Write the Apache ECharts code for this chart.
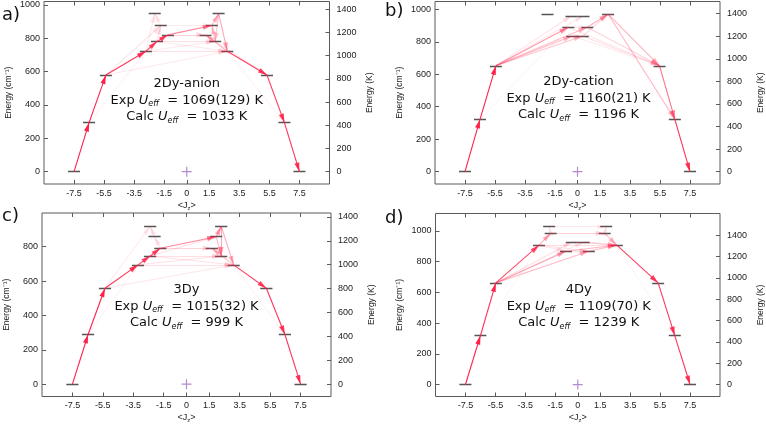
<!DOCTYPE html>
<html><head><meta charset="utf-8">
<script src="https://cdn.jsdelivr.net/npm/echarts@6/dist/echarts.min.js"></script>
<style>html,body{margin:0;padding:0;background:#fff}#c{width:766px;height:428px}</style>
</head><body><div id="c"></div>
<script>
// ---------- shared ticks ----------
const xTicks = [-7.5, -5.5, -3.5, -1.5, 0, 1.5, 3.5, 5.5, 7.5];
const kTicks = [0, 200, 400, 600, 800, 1000, 1200, 1400];
const cmToK = 1.4388;
const originPoint = [[0, 0]];

// ---------- panel a: 2Dy-anion ----------
const aJz = [-7.5, -6.5, -5.38, -2.72, -1.98, -1.25, -1.73, -2.13, 2.12, 1.67, 1.25, 1.89, 2.7, 5.34, 6.5, 7.5];
const aE  = [0, 294, 579, 722, 780, 820, 876, 947, 947, 876, 820, 780, 722, 579, 294, 0];
const aTrans = [[0,1,1],[1,2,1],[2,3,0.9],[3,4,0.8],[4,5,0.8],[5,9,0.55],[9,8,0.3],[8,12,0.4],[8,11,0.25],
  [12,13,0.85],[13,14,0.9],[14,15,0.9],[3,12,0.15],[4,11,0.15],[5,10,0.2],[12,10,0.35],[11,9,0.25],
  [2,6,0.12],[3,7,0.1],[6,7,0.1],[4,6,0.15],[3,11,0.1],[4,12,0.1],[2,12,0.1],[6,9,0.1],[10,13,0.1],[1,3,0.06],[12,14,0.06]];
const aYTicks = [0, 200, 400, 600, 800, 1000];
const aRange = [-74, 1020];

// ---------- panel b: 2Dy-cation ----------
const bJz = [-7.5, -6.5, -5.44, -2.0, -0.4, 0.4, -0.61, 0.65, -0.35, 0.35, 2.04, 5.47, 6.49, 7.5];
const bE  = [0, 322, 652, 970, 960, 960, 889, 889, 835, 835, 970, 652, 322, 0];
const bTrans = [[0,1,1],[1,2,1],[2,6,0.45],[2,7,0.3],[2,8,0.3],[2,9,0.25],[2,4,0.12],[2,5,0.1],[7,10,0.35],
  [9,10,0.2],[10,11,0.35],[10,12,0.3],[7,11,0.2],[6,11,0.12],[9,11,0.15],[8,11,0.1],[11,12,0.6],[12,13,0.9],
  [6,7,0.1],[8,9,0.1],[1,6,0.05],[11,13,0.05]];
const bYTicks = [0, 200, 400, 600, 800, 1000];
const bRange = [-76, 1048];

// ---------- panel c: 3Dy ----------
const cJz = [-7.5, -6.47, -5.36, -3.19, -2.39, -1.72, -2.1, -2.39, 2.28, 1.95, 1.66, 2.28, 3.1, 5.25, 6.47, 7.5];
const cE  = [0, 289, 558, 694, 746, 791, 858, 919, 919, 858, 791, 746, 694, 558, 289, 0];
const cTrans = [[0,1,1],[1,2,1],[2,3,0.9],[3,4,0.8],[4,5,0.8],[5,9,0.55],[9,8,0.4],[8,11,0.4],[8,12,0.35],
  [12,13,0.85],[13,14,0.9],[14,15,0.9],[2,12,0.1],[3,12,0.15],[4,11,0.15],[5,10,0.2],[6,7,0.12],[2,7,0.1],
  [12,10,0.3],[9,11,0.3],[3,11,0.12],[4,12,0.12],[5,6,0.12],[4,9,0.15],[1,3,0.06],[12,14,0.06]];
const cYTicks = [0, 200, 400, 600, 800];
const cRange = [-72, 996];

// ---------- panel d: 4Dy ----------
const dJz = [-7.5, -6.5, -5.47, -2.59, -1.81, -1.91, -0.4, 0.4, -0.79, 0.74, 1.8, 1.9, 2.61, 5.37, 6.48, 7.5];
const dE  = [0, 319, 662, 908, 985, 1028, 929, 929, 868, 868, 985, 1028, 908, 662, 319, 0];
const dTrans = [[0,1,1],[1,2,0.95],[2,3,0.8],[3,4,0.35],[2,8,0.4],[2,9,0.3],[8,12,0.3],[9,12,0.3],[4,10,0.2],
  [10,12,0.3],[6,12,0.15],[7,12,0.15],[12,13,0.85],[13,14,0.9],[14,15,0.9],[3,12,0.15],[2,6,0.15],[2,7,0.1],
  [8,9,0.15],[3,8,0.12],[5,11,0.1],[4,5,0.1],[10,11,0.12],[3,9,0.1],[1,3,0.05],[12,14,0.05]];
const dYTicks = [0, 200, 400, 600, 800, 1000];
const dRange = [-78, 1114];

// ---------- titles ----------
const titles = ['2Dy-anion', '2Dy-cation', '3Dy', '4Dy'];
const expValues = ['1069(129)', '1160(21)', '1015(32)', '1109(70)'];
const calcValues = ['1033', '1196', '999', '1239'];
const panelLetters = ['a)', 'b)', 'c)', 'd)'];

// ---------- layout (pixels) ----------
const panels = [
  {jz: aJz, e: aE, tr: aTrans, yt: aYTicks, range: aRange, grid: {left: 44, top: 1.5, width: 285.5, height: 182.5}, textY: 84, lab: [2, 15]},
  {jz: bJz, e: bE, tr: bTrans, yt: bYTicks, range: bRange, grid: {left: 435, top: 1.5, width: 287, height: 182.5}, textY: 82, lab: [385, 11]},
  {jz: cJz, e: cE, tr: cTrans, yt: cYTicks, range: cRange, grid: {left: 42, top: 213, width: 289, height: 183.5}, textY: 290, lab: [2, 216]},
  {jz: dJz, e: dE, tr: dTrans, yt: dYTicks, range: dRange, grid: {left: 435.5, top: 213.5, width: 286.5, height: 183}, textY: 290, lab: [385, 218]}
];

const FRAME = '#5a5a5a';
const TXT = '#222';
const TICKFONT = 'Liberation Sans';
const BIGFONT = 'DejaVu Sans';
const plain = v => String(v);
// arrowhead whose tip sits at the symbol centre (empty upper half)
const HEAD = 'path://M5,-16L5.01,-16L5,-15.99Z M5,0L10,16L0,16Z';

const grids = [], xAxes = [], yAxes = [], series = [], graphics = [];
panels.forEach((p, i) => {
  grids.push(Object.assign({show: true, borderColor: FRAME, borderWidth: 1, backgroundColor: 'transparent'}, p.grid));
  const tickStyle = {lineStyle: {color: FRAME, width: 1}};
  const noLine = {show: false, onZero: false};
  xAxes.push({
    gridIndex: i, type: 'value', min: -9.5, max: 9.5, position: 'bottom',
    axisLine: noLine, splitLine: {show: false},
    axisTick: Object.assign({inside: true, length: 4, customValues: xTicks}, tickStyle),
    axisLabel: {customValues: xTicks, formatter: plain, margin: 5, fontSize: 9, color: TXT, fontFamily: TICKFONT},
    name: '<J{s|z}>', nameLocation: 'middle', nameGap: 16,
    nameTextStyle: {fontSize: 9, color: TXT, fontFamily: TICKFONT, rich: {s: {fontSize: 6, fontFamily: TICKFONT, color: TXT, verticalAlign: 'bottom', padding: [5, 0, 0, 0]}}}
  });
  xAxes.push({
    gridIndex: i, type: 'value', min: -9.5, max: 9.5, position: 'top',
    axisLine: noLine, splitLine: {show: false},
    axisTick: Object.assign({inside: true, length: 4, customValues: xTicks}, tickStyle),
    axisLabel: {show: false, customValues: xTicks}
  });
  yAxes.push({
    gridIndex: i, type: 'value', min: p.range[0], max: p.range[1], position: 'left',
    axisLine: noLine, splitLine: {show: false},
    axisTick: Object.assign({inside: true, length: 4, customValues: p.yt}, tickStyle),
    axisLabel: {customValues: p.yt, formatter: plain, margin: 4, fontSize: 9, color: TXT, fontFamily: TICKFONT},
    name: 'Energy (cm⁻¹)', nameLocation: 'middle', nameGap: 31,
    nameTextStyle: {fontSize: 8.5, color: TXT, fontFamily: TICKFONT}
  });
  yAxes.push({
    gridIndex: i, type: 'value', min: p.range[0] * cmToK, max: p.range[1] * cmToK, position: 'right',
    axisLine: noLine, splitLine: {show: false},
    axisTick: Object.assign({inside: true, length: 4, customValues: kTicks}, tickStyle),
    axisLabel: {customValues: kTicks, formatter: plain, margin: 7, fontSize: 9, color: TXT, fontFamily: TICKFONT},
    name: 'Energy (K)', nameLocation: 'middle', nameGap: 36,
    nameTextStyle: {fontSize: 8.5, color: TXT, fontFamily: TICKFONT}
  });
  // energy levels
  series.push({
    type: 'lines', coordinateSystem: 'cartesian2d', xAxisIndex: 2 * i, yAxisIndex: 2 * i,
    silent: true, symbol: 'none', z: 2,
    lineStyle: {color: '#555', width: 1.4, opacity: 1},
    data: p.jz.map((x, k) => ({coords: [[x - 0.4, p.e[k]], [x + 0.4, p.e[k]]]}))
  });
  // transitions (symbolSize: [fromSize, toSize], toSize given as [w, h])
  series.push({
    type: 'lines', coordinateSystem: 'cartesian2d', xAxisIndex: 2 * i, yAxisIndex: 2 * i,
    silent: true, symbol: ['none', HEAD], symbolSize: [1, [5, 18]], z: 3,
    lineStyle: {color: '#ff2048', width: 1.1},
    data: p.tr.map(([f, t, w]) => ({
      coords: [[p.jz[f], p.e[f]], [p.jz[t], p.e[t]]],
      lineStyle: {color: 'rgba(255,32,72,' + w + ')', opacity: 1}
    }))
  });
  // origin marker
  series.push({
    type: 'scatter', xAxisIndex: 2 * i, yAxisIndex: 2 * i, silent: true, z: 4,
    symbol: 'path://M4.4,0h1.2v10h-1.2z M0,4.4h10v1.2h-10z', symbolSize: 10,
    itemStyle: {color: '#a06fc0'}, data: originPoint
  });
  const cx = p.grid.left + p.grid.width / 2;
  const lines = [
    titles[i],
    'Exp {u|U}{s|eff}  = ' + expValues[i] + ' K',
    'Calc {u|U}{s|eff}  = ' + calcValues[i] + ' K'
  ];
  const rich = {
    u: {fontStyle: 'italic', fontSize: 13, fontFamily: BIGFONT, fill: '#111', lineHeight: 16},
    s: {fontStyle: 'italic', fontSize: 8, fontFamily: BIGFONT, fill: '#111', verticalAlign: 'bottom', lineHeight: 11}
  };
  lines.forEach((t, j) => {
    graphics.push({
      type: 'text', x: cx, y: p.textY + j * 16.3, z: 10, silent: true,
      style: {text: t, rich: rich, fontSize: 13, fontFamily: BIGFONT, fill: '#111', align: 'center', verticalAlign: 'middle', lineHeight: 16}
    });
  });
  graphics.push({
    type: 'text', x: p.lab[0], y: p.lab[1], z: 10, silent: true,
    style: {text: panelLetters[i], fontSize: 18, fontFamily: BIGFONT, fill: '#111', align: 'left', verticalAlign: 'middle'}
  });
});

const chart = echarts.init(document.getElementById('c'), null, {renderer: 'canvas'});
chart.setOption({
  animation: false,
  backgroundColor: '#fff',
  grid: grids, xAxis: xAxes, yAxis: yAxes, series: series, graphic: graphics
});
</script></body></html>
